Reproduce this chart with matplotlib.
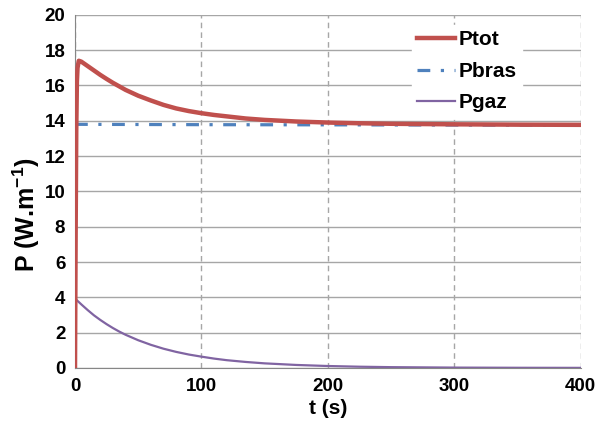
import matplotlib.pyplot as plt

# valeurs
t_tot = [0, 0.5, 1, 1.5, 2, 3, 5, 10, 15, 20, 25, 30, 35, 40, 50, 60, 70, 80, 90, 100,
         110, 120, 135, 150, 175, 200, 225, 250, 300, 350, 400]
p_tot = [0, 7.5, 13.5, 16.2, 17.0, 17.4, 17.35, 17.1, 16.85, 16.6, 16.37, 16.15, 15.95, 15.75,
         15.42, 15.15, 14.9, 14.7, 14.55, 14.43, 14.33, 14.25, 14.13, 14.05, 13.96, 13.9,
         13.86, 13.83, 13.8, 13.78, 13.77]

t_bras = [0, 100, 200, 300, 400]
p_bras = [13.8, 13.78, 13.77, 13.76, 13.75]

t_gaz = [0, 0.5, 2, 5, 10, 15, 20, 25, 30, 35, 40, 50, 60, 70, 80, 90, 100, 110, 120,
         135, 150, 175, 200, 225, 250, 300, 350, 400]
p_gaz = [0, 3.9, 3.8, 3.6, 3.28, 2.98, 2.72, 2.48, 2.26, 2.06, 1.88, 1.57, 1.31, 1.09, 0.91,
         0.76, 0.64, 0.53, 0.44, 0.34, 0.26, 0.17, 0.11, 0.07, 0.045, 0.02, 0.01, 0.005]

plt.rcParams['font.family'] = ['Liberation Sans', 'DejaVu Sans']
plt.rcParams['mathtext.fontset'] = 'custom'
plt.rcParams['mathtext.bf'] = 'Liberation Sans:bold'
plt.rcParams['mathtext.rm'] = 'Liberation Sans:bold'

fig = plt.figure(figsize=(6, 4.37), dpi=100)
ax = fig.add_axes([0.125, 0.158, 0.843, 0.808])

ax.plot(t_tot, p_tot, color='#c0504d', lw=3.2, label='Ptot', zorder=3)
ax.plot(t_bras, p_bras, color='#4f81bd', lw=2.3, ls=(0, (4, 3.3, 1, 3.3)), label='Pbras', zorder=2)
ax.plot(t_gaz, p_gaz, color='#8064a2', lw=1.6, label='Pgaz', zorder=2)

ax.set_xlim(0, 400)
ax.set_ylim(0, 20)
ax.set_xticks(range(0, 401, 100))
ax.set_yticks(range(0, 21, 2))

ax.grid(axis='y', color='#a6a6a6', lw=1, ls='-')
ax.grid(axis='x', color='#a6a6a6', lw=1, ls=(0, (4, 3)))
ax.set_axisbelow(True)
for s in ['top', 'right']:
    ax.spines[s].set_visible(False)
for s in ['left', 'bottom']:
    ax.spines[s].set_color('#868686')
ax.tick_params(length=0, labelsize=13.5, pad=7)
for lab in ax.get_xticklabels() + ax.get_yticklabels():
    lab.set_fontweight('bold')

ax.set_xlabel('t (s)', fontsize=15, fontweight='bold', labelpad=3)
ax.set_ylabel(r'P (W.m$^{\mathbf{-1}}$)', fontsize=18, fontweight='bold')
ax.yaxis.set_label_coords(-0.066, 0.435)

leg = ax.legend(loc='upper right', bbox_to_anchor=(0.905, 1.0), frameon=True, fancybox=False,
                edgecolor='white', framealpha=1, handlelength=1.8, handletextpad=0.2,
                labelspacing=0.6, prop={'weight': 'bold', 'size': 15}, borderpad=0.25)

fig.savefig('out.png', dpi=100)
